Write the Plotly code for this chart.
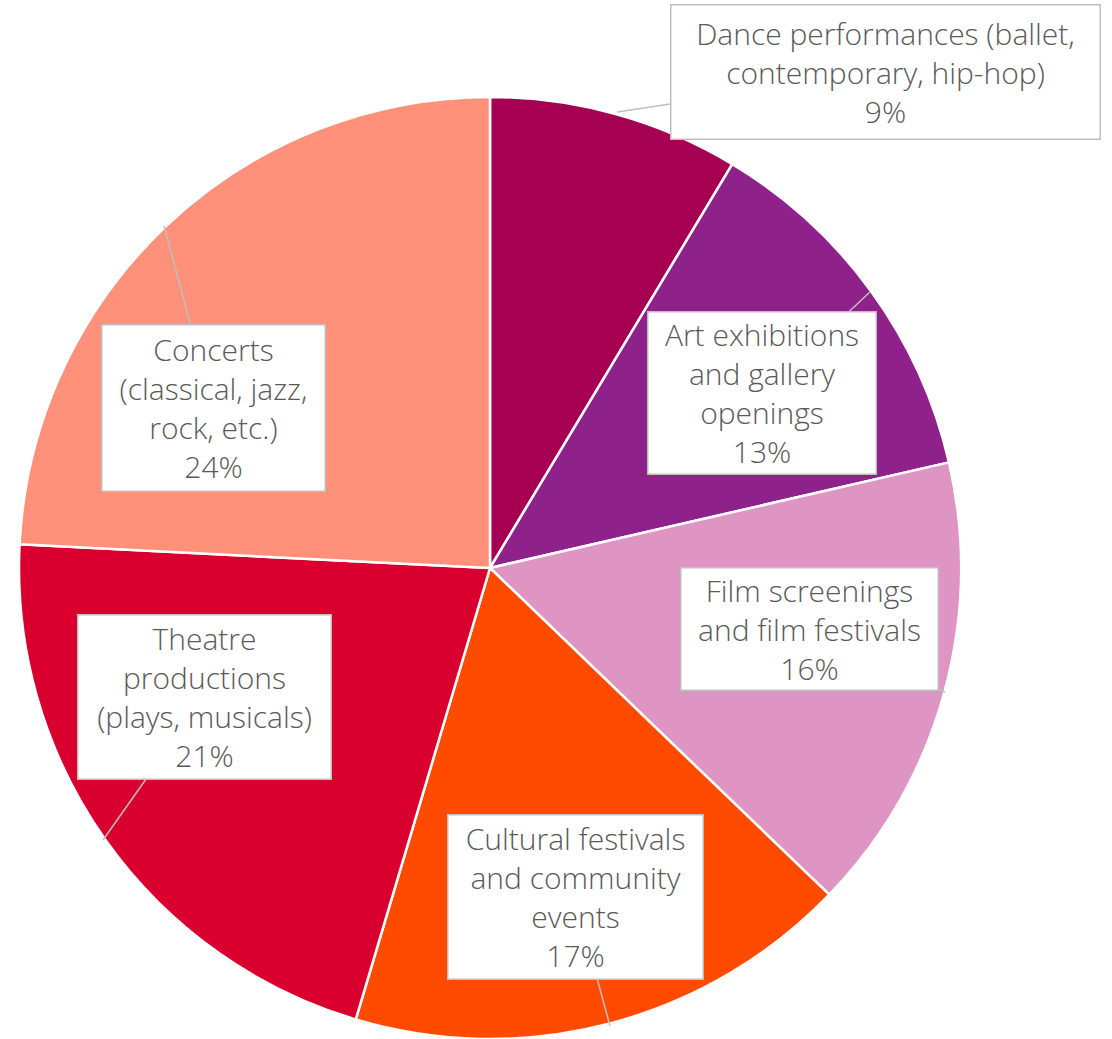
import plotly.graph_objects as go

categories = [
    "Dance performances (ballet,<br>contemporary, hip-hop)",
    "Art exhibitions<br>and gallery<br>openings",
    "Film screenings<br>and film festivals",
    "Cultural festivals<br>and community<br>events",
    "Theatre<br>productions<br>(plays, musicals)",
    "Concerts<br>(classical, jazz,<br>rock, etc.)",
]
values = [8.6, 12.8, 15.8, 17.4, 21.2, 24.2]
colors = ["#A50052", "#8E228A", "#DE95C3", "#FF4B00", "#D9002F", "#FF917A"]

W, H = 1112, 1039

fig = go.Figure(go.Pie(
    labels=categories,
    values=values,
    sort=False,
    direction="clockwise",
    rotation=0,
    marker=dict(colors=colors, line=dict(color="white", width=2.5)),
    textinfo="none",
    hoverinfo="label+percent",
    showlegend=False,
    domain=dict(x=[18 / W, 962 / W], y=[0, 942 / H]),
))

total = sum(values)

# callout layout: (tip_px, tip_py, box_cx, box_cy, box_w, box_h)
callouts = [
    (617, 112, 885, 72, 430, 135),
    (870, 292, 762, 393, 229, 163),
    (945, 692, 809, 629, 258, 123),
    (610, 1026, 575, 897, 256, 165),
    (103, 840, 204, 697, 254, 165),
    (164, 226, 213, 408, 224, 167),
]

for lab, v, (tx, ty, bx, by, bw, bh) in zip(categories, values, callouts):
    pct = int(v / total * 100 + 0.5)
    fig.add_annotation(
        x=tx / W, y=1 - ty / H, xref="paper", yref="paper",
        ax=bx - tx, ay=by - ty, axref="pixel", ayref="pixel",
        text=f"{lab}<br>{pct}%",
        showarrow=True, arrowhead=0, arrowwidth=1.5, arrowcolor="#BFBFBF",
        bgcolor="white", bordercolor="#BFBFBF", borderwidth=1.5,
        width=bw - 4, height=bh - 4, align="center", valign="middle",
        font=dict(family="Open Sans, sans-serif", size=30, color="#595959",
                  weight=300),
    )

fig.update_layout(
    width=W, height=H,
    margin=dict(l=0, r=0, t=0, b=0),
    paper_bgcolor="white", plot_bgcolor="white",
)

fig.write_html("out.html")
